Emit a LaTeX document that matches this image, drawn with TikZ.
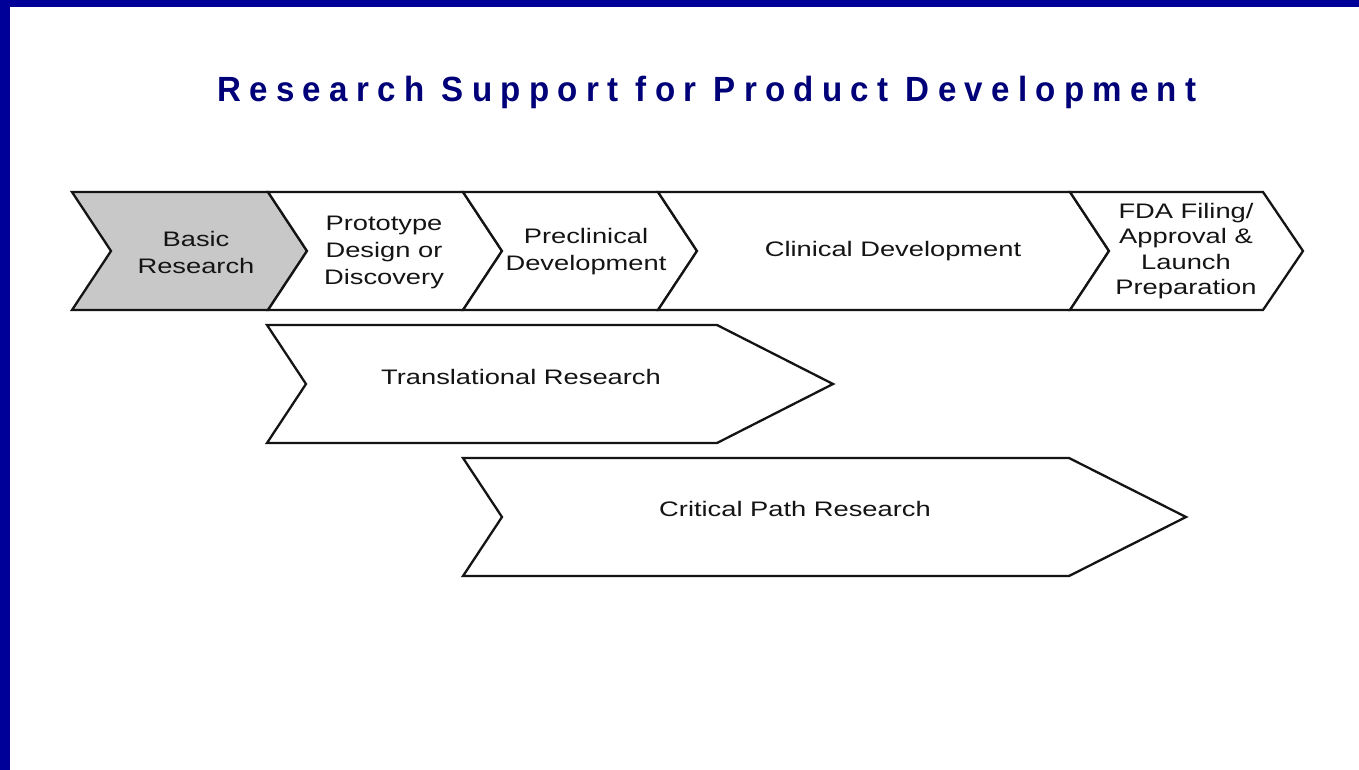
\documentclass[tikz,border=0pt]{standalone}
\usepackage{fontspec}
\setmainfont{Liberation Sans}
\newfontfamily\labfont{Liberation Sans}[FakeStretch=1.3]
\newfontfamily\titlefont{Liberation Sans Bold}[LetterSpace=25]
\definecolor{borderblue}{RGB}{0,0,153}
\definecolor{titleblue}{RGB}{0,0,120}
\definecolor{inkgray}{RGB}{20,20,20}
\definecolor{basicgray}{RGB}{200,200,200}
\tikzset{
  chev/.style={draw=inkgray, line width=2.3pt, line join=miter, fill=white},
  lab/.style={font=\labfont\fontsize{21}{27}\selectfont, text=inkgray, align=center, inner sep=0pt},
}
\begin{document}
\begin{tikzpicture}[x=1pt,y=-1pt]
\useasboundingbox (0,0) rectangle (1359,770);
\fill[white] (0,0) rectangle (1359,770);
\fill[borderblue] (0,0) rectangle (10,770);
\fill[borderblue] (0,0) rectangle (1359,7);
% title
\node[anchor=base, text=titleblue, inner sep=0pt] (title) at (707,102)
  {\resizebox{979pt}{\height}{\titlefont\fontsize{35}{40}\selectfont Research Support for Product Development}};
% top row
\draw[chev, fill=basicgray] (72,192) -- (268,192) -- (307,251) -- (268,310) -- (72,310) -- (111,251) -- cycle;
\draw[chev] (268,192) -- (463,192) -- (502,251) -- (463,310) -- (268,310) -- (307,251) -- cycle;
\draw[chev] (463,192) -- (658,192) -- (697,251) -- (658,310) -- (463,310) -- (502,251) -- cycle;
\draw[chev] (658,192) -- (1070,192) -- (1109,251) -- (1070,310) -- (658,310) -- (697,251) -- cycle;
\draw[chev] (1070,192) -- (1263,192) -- (1303,251) -- (1263,310) -- (1070,310) -- (1109,251) -- cycle;
% lower arrows
\draw[chev] (267,325) -- (717,325) -- (833,384) -- (717,443) -- (267,443) -- (306,384) -- cycle;
\draw[chev] (463,458) -- (1069,458) -- (1186,517) -- (1069,576) -- (463,576) -- (502,517) -- cycle;
% labels
\node[lab] (basic) at (196,252) {Basic\\Research};
\node[lab] (proto) at (384,252) {Prototype\\Design or\\Discovery};
\node[lab] (precl) at (586,252) {Preclinical\\Development};
\node[lab] (clin) at (893,251) {Clinical Development};
\node[lab, font=\labfont\fontsize{21}{25.5}\selectfont] (fda) at (1186,251) {FDA Filing/\\Approval \&\\Launch\\Preparation};
\node[lab] (trans) at (521,377) {Translational Research};
\node[lab] (crit) at (795,509) {Critical Path Research};
\end{tikzpicture}
\end{document}
